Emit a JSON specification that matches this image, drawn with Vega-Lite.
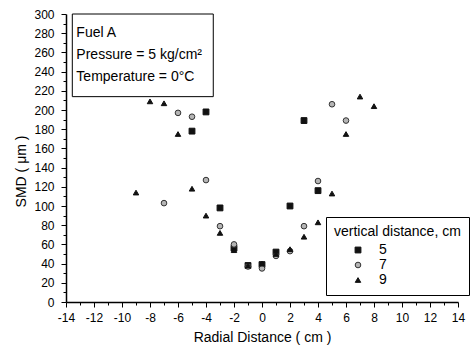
{
  "$schema": "https://vega.github.io/schema/vega-lite/v6.json",
  "width": 392,
  "height": 288,
  "autosize": "none",
  "padding": {"left": 66, "top": 14, "right": 12, "bottom": 45},
  "background": "white",
  "datasets": {
    "smd": [
      {"r": -5, "smd": 178, "vd": "5"},
      {"r": -4, "smd": 198, "vd": "5"},
      {"r": -3, "smd": 98, "vd": "5"},
      {"r": -2, "smd": 56, "vd": "5"},
      {"r": -1, "smd": 38, "vd": "5"},
      {"r": 0, "smd": 39, "vd": "5"},
      {"r": 1, "smd": 52, "vd": "5"},
      {"r": 2, "smd": 100, "vd": "5"},
      {"r": 3, "smd": 189, "vd": "5"},
      {"r": 4, "smd": 116, "vd": "5"},
      {"r": -7, "smd": 103, "vd": "7"},
      {"r": -6, "smd": 197, "vd": "7"},
      {"r": -5, "smd": 193, "vd": "7"},
      {"r": -4, "smd": 127, "vd": "7"},
      {"r": -3, "smd": 79, "vd": "7"},
      {"r": -2, "smd": 60, "vd": "7"},
      {"r": -1, "smd": 37, "vd": "7"},
      {"r": 0, "smd": 35, "vd": "7"},
      {"r": 1, "smd": 48, "vd": "7"},
      {"r": 2, "smd": 53, "vd": "7"},
      {"r": 3, "smd": 79, "vd": "7"},
      {"r": 4, "smd": 126, "vd": "7"},
      {"r": 5, "smd": 206, "vd": "7"},
      {"r": 6, "smd": 189, "vd": "7"},
      {"r": -9, "smd": 114, "vd": "9"},
      {"r": -8, "smd": 209, "vd": "9"},
      {"r": -7, "smd": 207, "vd": "9"},
      {"r": -6, "smd": 175, "vd": "9"},
      {"r": -5, "smd": 118, "vd": "9"},
      {"r": -4, "smd": 90, "vd": "9"},
      {"r": -3, "smd": 72, "vd": "9"},
      {"r": -2, "smd": 54, "vd": "9"},
      {"r": -1, "smd": 38, "vd": "9"},
      {"r": 0, "smd": 40, "vd": "9"},
      {"r": 1, "smd": 50, "vd": "9"},
      {"r": 2, "smd": 55, "vd": "9"},
      {"r": 3, "smd": 68, "vd": "9"},
      {"r": 4, "smd": 83, "vd": "9"},
      {"r": 5, "smd": 113, "vd": "9"},
      {"r": 6, "smd": 175, "vd": "9"},
      {"r": 7, "smd": 214, "vd": "9"},
      {"r": 8, "smd": 204, "vd": "9"}
    ],
    "box": [
      {"r": -13.55, "r2": -3.48, "smd": 300, "smd2": 213.9}
    ],
    "notes": [
      {"r": -13.26, "smd": 280, "label": "Fuel A"},
      {"r": -13.26, "smd": 257, "label": "Pressure = 5 kg/cm²"},
      {"r": -13.26, "smd": 234, "label": "Temperature = 0°C"}
    ]
  },
  "encoding": {
    "x": {
      "field": "r",
      "type": "quantitative",
      "scale": {"domain": [-14, 14], "nice": false, "zero": false},
      "axis": {
        "title": "Radial Distance ( cm )",
        "values": [-14, -13, -12, -11, -10, -9, -8, -7, -6, -5, -4, -3, -2, -1, 0, 1, 2, 3, 4, 5, 6, 7, 8, 9, 10, 11, 12, 13, 14],
        "labelExpr": "datum.value % 2 === 0 ? '' + datum.value : ''",
        "tickSize": {"condition": {"test": "datum.value % 2 === 0", "value": 5}, "value": 3},
        "labelPadding": 5,
        "labelOverlap": false,
        "labelFlush": false,
        "titleX": 196,
        "titleY": 39,
        "titleBaseline": "alphabetic",
        "titleAlign": "center"
      }
    },
    "y": {
      "field": "smd",
      "type": "quantitative",
      "scale": {"domain": [0, 300], "nice": false},
      "axis": {
        "title": "SMD ( μm )",
        "values": [0, 10, 20, 30, 40, 50, 60, 70, 80, 90, 100, 110, 120, 130, 140, 150, 160, 170, 180, 190, 200, 210, 220, 230, 240, 250, 260, 270, 280, 290, 300],
        "labelExpr": "datum.value % 20 === 0 ? '' + datum.value : ''",
        "tickSize": {"condition": {"test": "datum.value % 20 === 0", "value": 5}, "value": 3},
        "labelPadding": 7,
        "labelOverlap": false,
        "labelFlush": false,
        "titleX": -41,
        "titleY": 157,
        "titleAngle": -90,
        "titleBaseline": "alphabetic",
        "titleAlign": "center"
      }
    }
  },
  "layer": [
    {
      "data": {"name": "box"},
      "mark": {"type": "rect", "fill": "white", "stroke": "black", "strokeWidth": 1},
      "encoding": {
        "x2": {"field": "r2"},
        "y2": {"field": "smd2"}
      }
    },
    {
      "data": {"name": "notes"},
      "mark": {"type": "text", "align": "left", "baseline": "middle", "font": "Liberation Sans", "fontSize": 14, "color": "black"},
      "encoding": {
        "text": {"field": "label", "type": "nominal"}
      }
    },
    {
      "data": {"name": "smd"},
      "mark": {"type": "point", "filled": true, "opacity": 1, "strokeWidth": 1},
      "encoding": {
        "shape": {
          "field": "vd", "type": "nominal",
          "scale": {"domain": ["5", "7", "9"], "range": ["square", "circle", "triangle-up"]},
          "legend": {"title": "vertical distance, cm", "orient": "none", "legendX": 260, "legendY": 203}
        },
        "fill": {
          "field": "vd", "type": "nominal",
          "scale": {"domain": ["5", "7", "9"], "range": ["#111111", "#b5b5b5", "#111111"]},
          "legend": {"title": "vertical distance, cm", "orient": "none", "legendX": 260, "legendY": 203}
        },
        "stroke": {
          "field": "vd", "type": "nominal",
          "scale": {"domain": ["5", "7", "9"], "range": ["#111111", "#333333", "#111111"]},
          "legend": {"title": "vertical distance, cm", "orient": "none", "legendX": 260, "legendY": 203}
        },
        "size": {
          "field": "vd", "type": "nominal",
          "scale": {"domain": ["5", "7", "9"], "range": [34, 30, 88]},
          "legend": {"title": "vertical distance, cm", "orient": "none", "legendX": 260, "legendY": 203}
        }
      }
    }
  ],
  "config": {
    "view": {"stroke": null},
    "font": "Liberation Sans",
    "axis": {
      "grid": false,
      "domainColor": "black",
      "domainWidth": 1.5,
      "tickColor": "black",
      "tickWidth": 1,
      "labelFont": "Liberation Sans",
      "labelFontSize": 12,
      "labelColor": "black",
      "titleFont": "Liberation Sans",
      "titleFontSize": 14,
      "titleFontWeight": "normal",
      "titleColor": "black"
    },
    "legend": {
      "strokeColor": "black",
      "fillColor": "white",
      "padding": 8,
      "cornerRadius": 0,
      "titleFont": "Liberation Sans",
      "titleFontSize": 14,
      "titleFontWeight": "normal",
      "titleColor": "black",
      "titlePadding": 4,
      "labelFont": "Liberation Sans",
      "labelFontSize": 14,
      "labelColor": "black",
      "symbolOffset": 17,
      "labelOffset": 14,
      "rowPadding": 1,
      "symbolStrokeWidth": 1
    }
  }
}
